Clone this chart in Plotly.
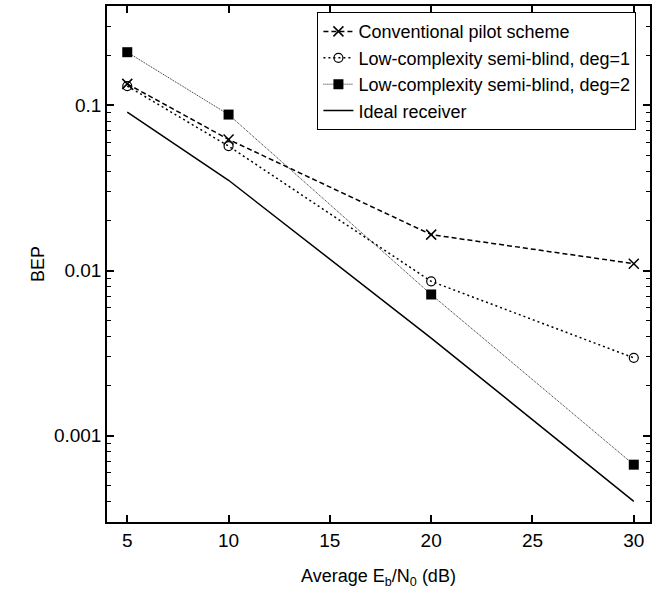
import plotly.graph_objects as go

# ---- data ----
snr_db = [5, 10, 20, 30]
conventional = [0.135, 0.0622, 0.0165, 0.0110]
semi_blind_deg1 = [0.131, 0.0567, 0.0086, 0.00296]
semi_blind_deg2 = [0.210, 0.088, 0.00716, 0.000667]
ideal_receiver = [0.091, 0.0352, 0.0039, 0.00040]

x_ticks = [5, 10, 15, 20, 25, 30]
y_ticks = [0.001, 0.01, 0.1]
y_tick_text = ["0.001", "0.01", "0.1"]
y_minor = [m * 10.0 ** e for e in (-4, -3, -2, -1) for m in range(2, 10)]

FONT = "Liberation Sans, Arial, sans-serif"

fig = go.Figure()
fig.add_trace(go.Scatter(
    x=snr_db, y=conventional, name="Conventional pilot scheme",
    mode="lines+markers",
    line=dict(color="black", width=1.5, dash="5px,3px"),
    marker=dict(symbol="x-thin-open", size=10, color="black",
                line=dict(color="black", width=1.5))))
fig.add_trace(go.Scatter(
    x=snr_db, y=semi_blind_deg1, name="Low-complexity semi-blind, deg=1",
    mode="lines+markers",
    line=dict(color="black", width=1.5, dash="2px,3px"),
    marker=dict(symbol="circle-open", size=9, color="black",
                line=dict(color="black", width=1.2))))
fig.add_trace(go.Scatter(
    x=snr_db, y=semi_blind_deg2, name="Low-complexity semi-blind, deg=2",
    mode="lines+markers",
    line=dict(color="#222222", width=1, dash="1px,1px"),
    marker=dict(symbol="square", size=10, color="black")))
fig.add_trace(go.Scatter(
    x=snr_db, y=ideal_receiver, name="Ideal receiver",
    mode="lines",
    line=dict(color="black", width=1.5)))

fig.update_layout(
    width=655, height=591,
    margin=dict(l=107, r=3, t=6, b=69),
    paper_bgcolor="white", plot_bgcolor="white",
    font=dict(family=FONT, size=17, color="black"),
    showlegend=True,
    legend=dict(x=0.975, y=0.988, xanchor="right", yanchor="top",
                bgcolor="white", bordercolor="black", borderwidth=1,
                font=dict(family=FONT, size=18, color="black"),
                tracegroupgap=0),
)
fig.update_xaxes(
    type="linear", range=[4, 30.8],
    tickmode="array", tickvals=x_ticks,
    ticks="inside", ticklen=7, tickwidth=1.5, tickcolor="black",
    showline=True, linecolor="black", linewidth=1.5, mirror="allticks",
    showgrid=False, zeroline=False,
    tickfont=dict(family=FONT, size=19, color="black"),
    title=dict(text="Average E<sub>b</sub>/N<sub>0</sub> (dB)",
               font=dict(family=FONT, size=18, color="black"), standoff=20),
)
fig.update_yaxes(
    type="log", range=[-3.523, -0.398],
    tickmode="array", tickvals=y_ticks, ticktext=y_tick_text,
    ticks="inside", ticklen=7, tickwidth=1.5, tickcolor="black",
    minor=dict(tickmode="array", tickvals=y_minor, ticks="inside",
               ticklen=4, tickwidth=1, tickcolor="black", showgrid=False),
    showline=True, linecolor="black", linewidth=1.5, mirror="allticks",
    showgrid=False, zeroline=False,
    tickfont=dict(family=FONT, size=19, color="black"),
    title=dict(text="BEP", font=dict(family=FONT, size=18, color="black"),
               standoff=5),
)

fig.write_html("out.html")
